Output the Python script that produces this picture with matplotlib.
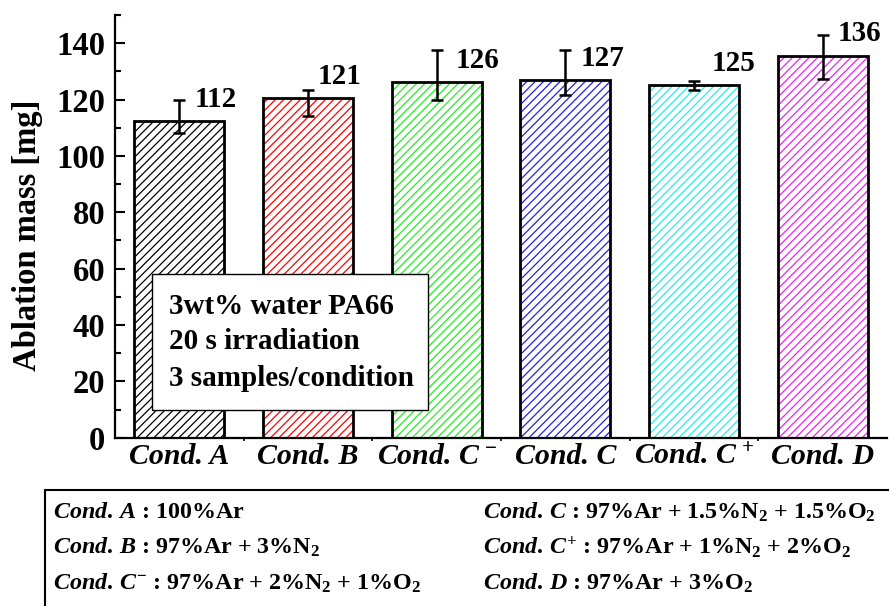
import numpy as np
import matplotlib.pyplot as plt
from matplotlib.patches import Rectangle
from matplotlib.ticker import MultipleLocator, FixedLocator

# datos
conds = ['Cond. A', 'Cond. B', 'Cond. C$^{\\,-}$', 'Cond. C', 'Cond. C$^{\\,+}$', 'Cond. D']
mass = [112.3, 120.6, 126.2, 126.8, 125.0, 135.4]
err_up = [7.4, 2.9, 11.3, 10.7, 1.5, 7.6]
err_down = [4.0, 6.5, 6.5, 5.3, 1.5, 8.2]
value_labels = ['112', '121', '126', '127', '125', '136']
colors = ['black', 'red', '#22ee22', '#2222dd', '#22eeee', '#ee22ee']

info_lines = ['3wt% water PA66', '20 s irradiation', '3 samples/condition']
legend_left = [r'$\mathit{Cond.}\,\mathit{A}$ : 100%Ar',
               r'$\mathit{Cond.}\,\mathit{B}$ : 97%Ar + 3%N$_2$',
               r'$\mathit{Cond.}\,\mathit{C}^{-}$ : 97%Ar + 2%N$_2$ + 1%O$_2$']
legend_right = [r'$\mathit{Cond.}\,\mathit{C}$ : 97%Ar + 1.5%N$_2$ + 1.5%O$_2$',
                r'$\mathit{Cond.}\,\mathit{C}^{+}$ : 97%Ar + 1%N$_2$ + 2%O$_2$',
                r'$\mathit{Cond.}\,\mathit{D}$ : 97%Ar + 3%O$_2$']

# posicion de las etiquetas de valor (desplazamiento en x, altura en y)
label_dx = [0.115, 0.075, 0.148, 0.12, 0.137, 0.114]
label_y = [119.9, 128.2, 133.9, 134.5, 132.8, 143.3]

plt.rcParams['font.family'] = ['Liberation Serif', 'DejaVu Serif']
plt.rcParams['font.weight'] = 'bold'
plt.rcParams['mathtext.fontset'] = 'custom'
plt.rcParams['mathtext.rm'] = 'Liberation Serif:bold'
plt.rcParams['mathtext.it'] = 'Liberation Serif:italic:bold'
plt.rcParams['mathtext.bf'] = 'Liberation Serif:bold'
plt.rcParams['mathtext.default'] = 'rm'
plt.rcParams['hatch.linewidth'] = 0.9

W, H = 889, 606
def fx(px):
    return px / W
def fy(py):
    return 1 - py / H

fig = plt.figure(figsize=(W / 100, H / 100), dpi=100)
ax = fig.add_axes([fx(115), fy(437.7), fx(887) - fx(115), fy(15) - fy(437.7)])

x = np.arange(1, len(mass) + 1)
# relleno rayado con color, luego el borde negro
ax.bar(x, mass, width=0.7, color='white', edgecolor=colors, hatch='////', linewidth=0, zorder=2)
ax.bar(x, mass, width=0.7, fill=False, edgecolor='black', linewidth=2, zorder=3)
ax.errorbar(x, mass, yerr=[err_down, err_up], fmt='none', ecolor='black',
            elinewidth=1.8, capsize=4.5, capthick=1.8, zorder=4)

for xi, dx, yl, lab in zip(x, label_dx, label_y, value_labels):
    ax.text(xi + dx, yl, lab, fontsize=21, ha='left', va='center', fontweight='bold')

ax.set_xlim(0.5, 6.5)
ax.set_ylim(0, 150)
ax.yaxis.set_major_locator(FixedLocator(np.arange(0, 141, 20)))
ax.yaxis.set_minor_locator(MultipleLocator(10))
ax.xaxis.set_major_locator(FixedLocator(x))
ax.xaxis.set_minor_locator(FixedLocator(x[:-1] + 0.5))
ax.set_xticklabels(conds, fontsize=21.5, fontstyle='italic', fontweight='bold')
ax.tick_params(axis='y', which='major', direction='in', length=7, width=1.5, labelsize=23.5, pad=7)
ax.tick_params(axis='y', which='minor', direction='in', length=4, width=1.5)
ax.tick_params(axis='x', which='major', length=0, pad=4)
ax.tick_params(axis='x', which='minor', direction='out', length=2.5, width=1.2)
for s in ['top', 'right']:
    ax.spines[s].set_visible(False)
for s in ['left', 'bottom']:
    ax.spines[s].set_linewidth(1.6)

fig.text(fx(27.5), fy(235.5), 'Ablation mass [mg]', rotation=90, fontsize=23.5,
         ha='center', va='center', fontweight='bold')

# recuadro con las condiciones del ensayo
ax.add_patch(Rectangle((fx(152), fy(410)), fx(428) - fx(152), fy(274) - fy(410),
                       transform=fig.transFigure, facecolor='white', edgecolor='black',
                       linewidth=1.0, zorder=5))
for i, line in enumerate(info_lines):
    ax.text(fx(169), fy(306 + 36 * i), line, transform=fig.transFigure, fontsize=21,
            ha='left', va='center', fontweight='bold', zorder=6)

# leyenda de composiciones abajo
fig.add_artist(Rectangle((fx(45), fy(620)), fx(910) - fx(45), fy(490) - fy(620),
                         transform=fig.transFigure, fill=False, edgecolor='black',
                         linewidth=1.5, clip_on=False))
for i, (l, r) in enumerate(zip(legend_left, legend_right)):
    yy = fy(512 + 35.5 * i)
    fig.text(fx(53), yy, l, fontsize=17.3, ha='left', va='center')
    fig.text(fx(483), yy, r, fontsize=17.3, ha='left', va='center')

plt.savefig('out.png', dpi=100)
